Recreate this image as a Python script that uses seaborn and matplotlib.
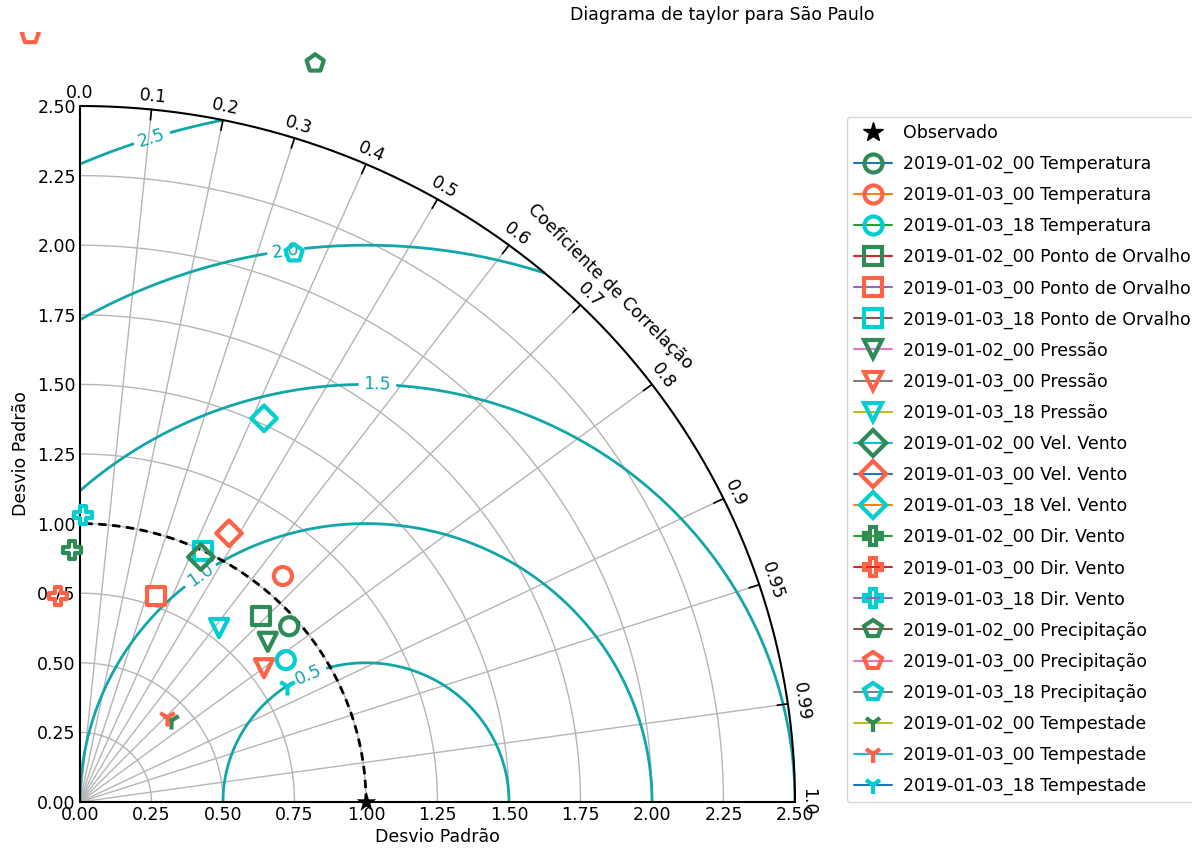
import numpy as np
import pandas as pd
import matplotlib
matplotlib.use("Agg")
import matplotlib.pyplot as plt
from matplotlib.lines import Line2D
from matplotlib.ticker import FormatStrFormatter
from matplotlib.transforms import Bbox, TransformedBbox
import seaborn as sns

# ---- data -------------------------------------------------------------
ref_std = 1.0
runs = ["2019-01-02_00", "2019-01-03_00", "2019-01-03_18"]
variables = ["Temperatura", "Ponto de Orvalho", "Pressão", "Vel. Vento",
             "Dir. Vento", "Precipitação", "Tempestade"]

# normalised standard deviation of each run / variable
stddev = [0.966, 1.078, 0.882,
          0.920, 0.786, 0.999,
          0.873, 0.803, 0.792,
          0.976, 1.097, 1.521,
          0.905, 0.744, 1.031,
          2.778, 2.761, 2.109,
          0.435, 0.429, 0.834]
# correlation coefficient with the observations
corrcoef = [0.757, 0.658, 0.816,
            0.688, 0.338, 0.430,
            0.752, 0.801, 0.614,
            0.433, 0.475, 0.423,
            -0.031, -0.103, 0.010,
            0.296, -0.063, 0.355,
            0.735, 0.706, 0.866]

std_ticks = [0.0, 0.25, 0.5, 0.75, 1.0, 1.25, 1.5, 1.75, 2.0, 2.25, 2.5]
corr_ticks = [0.0, 0.1, 0.2, 0.3, 0.4, 0.5, 0.6, 0.7, 0.8, 0.9, 0.95, 0.99, 1.0]
corr_tick_labels = ["0.0", "0.1", "0.2", "0.3", "0.4", "0.5", "0.6", "0.7",
                    "0.8", "0.9", "0.95", "0.99", "1.0"]
rms_levels = [0.5, 1.0, 1.5, 2.0, 2.5]

# ---- styles -----------------------------------------------------------
run_colors = ["seagreen", "tomato", "darkturquoise"]
var_markers = ["o", "s", "v", "D", "P", "p", "1"]
teal = "#12a6a8"
grid_grey = "#b5b5b5"
ms = 13
mew = 3
fs = 12.5

sns.set_style("white")
plt.rcParams["font.family"] = ["DejaVu Sans"]
plt.rcParams.update({"font.size": fs, "text.color": "k",
                     "axes.labelcolor": "k", "xtick.color": "k",
                     "ytick.color": "k"})

labels, colors, markers = [], [], []
for v, mk in zip(variables, var_markers):
    for r, c in zip(runs, run_colors):
        labels.append(f"{r} {v}")
        colors.append(c)
        markers.append(mk)

df = pd.DataFrame({"label": labels, "std": stddev, "corr": corrcoef})
df["x"] = df["std"] * df["corr"]
df["y"] = df["std"] * np.sqrt(1 - df["corr"] ** 2)

smax = std_ticks[-1]

fig = plt.figure(figsize=(11.92, 8.49), dpi=100)
ax = fig.add_axes([80 / 1192, 47 / 849, 715 / 1192, 696 / 849])
ax.set_xlim(0, smax)
ax.set_ylim(0, smax)
for s in ["top", "right"]:
    ax.spines[s].set_visible(False)
for s in ["left", "bottom"]:
    ax.spines[s].set_linewidth(1.5)
    ax.spines[s].set_color("k")
    ax.spines[s].set_zorder(4)
ax.set_xticks(std_ticks)
ax.set_yticks(std_ticks)
ax.xaxis.set_major_formatter(FormatStrFormatter("%.2f"))
ax.yaxis.set_major_formatter(FormatStrFormatter("%.2f"))
ax.tick_params(direction="in", length=7, width=1.2, labelsize=fs,
               colors="k", pad=3)
ax.set_xlabel("Desvio Padrão", fontsize=fs, labelpad=3)
ax.set_ylabel("Desvio Padrão", fontsize=fs, labelpad=5)

# std-dev arcs and correlation rays
theta = np.linspace(0, np.pi / 2, 500)
for r in std_ticks[1:-1]:
    ax.plot(r * np.cos(theta), r * np.sin(theta), color=grid_grey, lw=1,
            zorder=1)
for c in corr_ticks[1:-1]:
    t = np.arccos(c)
    ax.plot([0, smax * np.cos(t)], [0, smax * np.sin(t)], color=grid_grey,
            lw=1, zorder=1)

# outer correlation axis
ax.plot(smax * np.cos(theta), smax * np.sin(theta), color="k", lw=1.5,
        clip_on=False, zorder=4)
for c, lab in zip(corr_ticks, corr_tick_labels):
    t = np.arccos(c)
    ax.plot([smax * np.cos(t), 0.985 * smax * np.cos(t)],
            [smax * np.sin(t), 0.985 * smax * np.sin(t)], color="k", lw=1.2,
            clip_on=False, zorder=4)
    ax.text(1.019 * smax * np.cos(t), 1.019 * smax * np.sin(t), lab,
            rotation=np.degrees(t) - 90, ha="center", va="center",
            rotation_mode="anchor", fontsize=fs, clip_on=False)
ax.text(1.048 * smax * np.cos(np.pi / 4), 1.048 * smax * np.sin(np.pi / 4),
        "Coeficiente de Correlação", rotation=-45, ha="center", va="center",
        rotation_mode="anchor", fontsize=fs)

# centred RMS difference contours
rs, ts = np.meshgrid(np.linspace(0, smax, 400), np.linspace(0, np.pi / 2, 400))
rms = np.sqrt(ref_std ** 2 + rs ** 2 - 2 * ref_std * rs * np.cos(ts))
cs = ax.contour(rs * np.cos(ts), rs * np.sin(ts), rms, levels=rms_levels,
                colors=teal, linewidths=2, zorder=2)
ax.clabel(cs, inline=True, fontsize=fs, fmt="%.1f",
          manual=[(0.79, 0.48), (0.42, 0.815), (1.04, 1.50),
                  (0.72, 1.976), (0.25, 2.39)])

# reference std-dev arc
ax.plot(ref_std * np.cos(theta), ref_std * np.sin(theta), color="k", lw=2,
        dashes=(3, 2), clip_on=False, zorder=3)

# observation
sns.scatterplot(x=[ref_std], y=[0.0], marker="*", color="k", s=15 ** 2,
                edgecolor="k", linewidth=0, ax=ax, legend=False, zorder=6,
                clip_on=False)

# model samples
clip = TransformedBbox(Bbox([[0, 0], [1, 817 / 849]]), fig.transFigure)
for i, row in df.iterrows():
    m, c = markers[i], colors[i]
    if m == "1":
        sns.scatterplot(x=[row.x], y=[row.y], marker=m, color=c, s=ms ** 2,
                        linewidth=mew, ax=ax, legend=False, zorder=5)
    else:
        sns.scatterplot(x=[row.x], y=[row.y], marker=m, color=c,
                        facecolor="none", edgecolor=c, s=ms ** 2,
                        linewidth=mew, ax=ax, legend=False, zorder=5)
    coll = ax.collections[-1]
    coll.set_clip_path(None)
    coll.set_clip_box(clip)

# legend
handles = [Line2D([0], [0], ls="", marker="*", color="k", ms=15)]
for i, (m, c) in enumerate(zip(markers, colors)):
    if m == "1":
        handles.append(Line2D([0], [0], color=f"C{i % 10}", lw=1.5, marker=m,
                              ms=ms, mew=mew, mec=c))
    else:
        handles.append(Line2D([0], [0], color=f"C{i % 10}", lw=1.5, marker=m,
                              ms=ms, mew=mew, mec=c, mfc="none"))
fig.legend(handles, ["Observado"] + labels, loc="upper left",
           bbox_to_anchor=(847 / 1192, 1 - 117 / 849), fontsize=fs,
           labelspacing=0.74, handlelength=2.2, handletextpad=0.65,
           borderpad=0.4, borderaxespad=0, numpoints=1, frameon=True)

fig.text(722 / 1192, 1 - 15 / 849, "Diagrama de taylor para São Paulo",
         ha="center", va="center", fontsize=fs)

fig.savefig("out.png", dpi=100)
